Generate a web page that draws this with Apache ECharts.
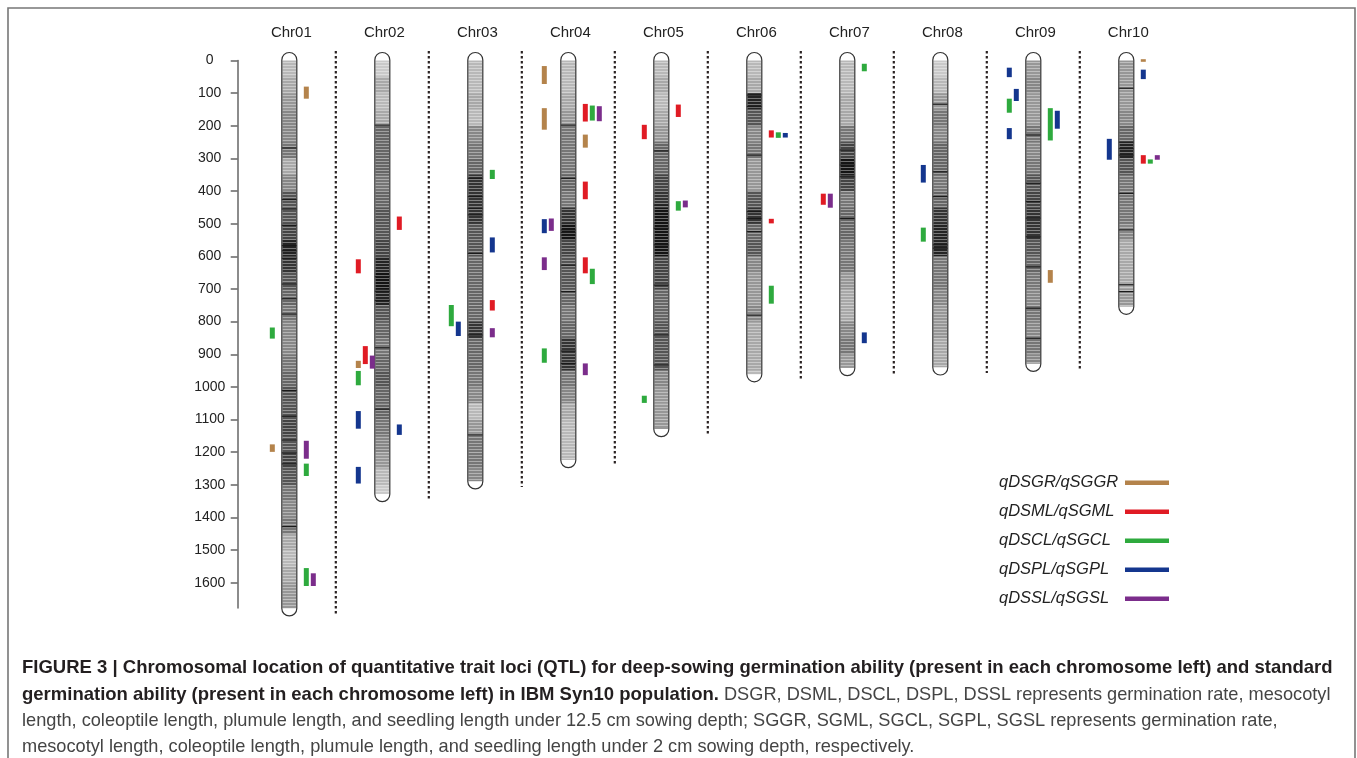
<!DOCTYPE html>
<html>
<head>
<meta charset="utf-8">
<script src="https://cdn.jsdelivr.net/npm/echarts@6/dist/echarts.min.js"></script>
<style>
html,body{margin:0;padding:0;background:#fff;}
#chart{width:1357px;height:758px;}
</style>
</head>
<body>
<div id="chart"></div>
<script>
// ---------------- DATA ----------------
const chromosomes = ['Chr01','Chr02','Chr03','Chr04','Chr05','Chr06','Chr07','Chr08','Chr09','Chr10'];
const chrLengths = [1677, 1327, 1288, 1223, 1128, 960, 941, 939, 928, 753];
const yTicks = [0,100,200,300,400,500,600,700,800,900,1000,1100,1200,1300,1400,1500,1600];
const binSize = 50;

// marker density (0 = sparse/white, 1 = dense/black), one value per 50-unit bin
const chr01Shade = [0.2,0.25,0.3,0.35,0.35,0.4,0.25,0.35,0.5,0.5,0.55,0.65,0.6,0.5,0.45,0.4,0.35,0.35,0.4,0.45,0.5,0.5,0.55,0.5,0.55,0.5,0.4,0.35,0.4,0.25,0.2,0.25,0.3,0.3];
const chr02Shade = [0.15,0.25,0.2,0.25,0.45,0.45,0.45,0.4,0.45,0.5,0.5,0.55,0.65,0.7,0.65,0.5,0.45,0.4,0.45,0.5,0.45,0.45,0.4,0.35,0.3,0.2,0.15];
const chr03Shade = [0.2,0.2,0.25,0.2,0.35,0.4,0.45,0.6,0.6,0.6,0.5,0.5,0.45,0.45,0.45,0.45,0.6,0.45,0.45,0.4,0.35,0.2,0.3,0.4,0.4,0.35];
const chr04Shade = [0.2,0.2,0.25,0.3,0.4,0.4,0.4,0.45,0.4,0.6,0.7,0.55,0.5,0.5,0.45,0.4,0.45,0.6,0.6,0.4,0.35,0.25,0.2,0.2,0.2];
const chr05Shade = [0.2,0.25,0.2,0.25,0.3,0.45,0.45,0.55,0.6,0.75,0.75,0.7,0.55,0.55,0.45,0.45,0.5,0.5,0.5,0.35,0.3,0.3,0.3];
const chr06Shade = [0.2,0.25,0.65,0.5,0.35,0.4,0.3,0.3,0.5,0.6,0.45,0.5,0.35,0.3,0.3,0.35,0.25,0.25,0.25,0.2];
const chr07Shade = [0.2,0.2,0.25,0.25,0.4,0.55,0.7,0.55,0.4,0.45,0.45,0.4,0.4,0.3,0.25,0.25,0.35,0.4,0.3];
const chr08Shade = [0.15,0.2,0.3,0.4,0.35,0.45,0.45,0.4,0.45,0.6,0.65,0.65,0.4,0.4,0.35,0.3,0.3,0.25,0.25];
const chr09Shade = [0.3,0.35,0.3,0.3,0.4,0.35,0.4,0.5,0.55,0.6,0.6,0.5,0.45,0.4,0.35,0.4,0.35,0.4,0.35];
const chr10Shade = [0.3,0.3,0.3,0.35,0.45,0.65,0.5,0.4,0.4,0.4,0.35,0.25,0.25,0.25,0.3,0.3];

// prominent dark marker lines (positions)
const chr01Lines = [268,426,455,505,567,583,606,685,730,777,1011,1090,1163,1202,1236,1428];
const chr02Lines = [198,662,707,735,880,1068];
const chr03Lines = [361,417,453,473,591,841,1147];
const chr04Lines = [198,361,519,527,535,627,708,890,928];
const chr05Lines = [277,443,514,565,688,841,933];
const chr06Lines = [106,141,290,463,484,524,780];
const chr07Lines = [274,320,356,484];
const chr08Lines = [134,341,417,565,575];
const chr09Lines = [228,376,432,483,540,632,759,851];
const chr10Lines = [85,250,270,290,407,519,687,708];

// QTL traits and intervals: [chromosome, lane (- = left, + = right), start, end]
const traits = ['qDSGR/qSGGR','qDSML/qSGML','qDSCL/qSGCL','qDSPL/qSGPL','qDSSL/qSGSL'];
const traitColors = ['#B4834B','#E01B24','#2EAA3E','#14368E','#7B2D8B'];
const qtlGR = [[1,2,80,117],[1,-2,1176,1199],[2,-3,920,942],[4,-3,17,72],[4,-3,146,212],[4,2,227,267],[9,2,642,681],[10,2,-4,4]];
const qtlML = [[2,2,478,519],[2,-3,609,652],[2,-2,875,930],[3,2,734,766],[4,2,133,187],[4,2,371,425],[4,2,603,652],[5,2,135,173],[5,-2,197,241],[6,2,214,236],[6,2,485,499],[7,-3,408,442],[10,2,290,316]];
const qtlCL = [[1,-2,818,852],[1,2,1235,1273],[1,2,1555,1610],[2,-3,951,995],[3,2,335,363],[3,-3,749,814],[4,3,138,184],[4,3,638,685],[4,-3,882,926],[5,2,431,460],[5,-2,1027,1049],[6,3,220,237],[6,2,690,745],[7,2,10,33],[8,-2,512,555],[9,-3,117,160],[9,2,146,245],[10,3,303,316]];
const qtlPL = [[2,-3,1074,1128],[2,2,1115,1147],[2,-3,1245,1296],[3,2,542,588],[3,-2,800,844],[4,-3,486,529],[6,4,222,236],[7,2,833,866],[8,-2,320,374],[9,-3,22,51],[9,-2,87,124],[9,-3,207,241],[9,3,154,209],[10,2,28,57],[10,-2,240,304]];
const qtlSL = [[1,2,1165,1220],[1,3,1571,1610],[2,-1,904,944],[3,2,820,848],[4,4,140,186],[4,-2,484,522],[4,-3,603,642],[4,2,928,964],[5,3,429,450],[7,-2,408,451],[10,4,290,304]];

const captionLines = [
  [['b','FIGURE 3 | Chromosomal location of quantitative trait loci (QTL) for deep-sowing germination ability (present in each chromosome left) and standard']],
  [['b','germination ability (present in each chromosome left) in IBM Syn10 population.'],['n',' DSGR, DSML, DSCL, DSPL, DSSL represents germination rate, mesocotyl']],
  [['n','length, coleoptile length, plumule length, and seedling length under 12.5 cm sowing depth; SGGR, SGML, SGCL, SGPL, SGSL represents germination rate,']],
  [['n','mesocotyl length, coleoptile length, plumule length, and seedling length under 2 cm sowing depth, respectively.']]
];

// ---------------- RENDER ----------------
const FONT = '"Liberation Sans", Arial, Helvetica, sans-serif';
const chrShades = [chr01Shade,chr02Shade,chr03Shade,chr04Shade,chr05Shade,chr06Shade,chr07Shade,chr08Shade,chr09Shade,chr10Shade];
const chrLines = [chr01Lines,chr02Lines,chr03Lines,chr04Lines,chr05Lines,chr06Lines,chr07Lines,chr08Lines,chr09Lines,chr10Lines];
const qtlSets = [qtlGR,qtlML,qtlCL,qtlPL,qtlSL];

function grayOf(s){ const g = Math.max(20, Math.round(250 - s*330)); return 'rgb('+g+','+g+','+g+')'; }

function renderChr(params, api){
  const i = api.value(0), L = api.value(1);
  const p0 = api.coord([i, 0]), pL = api.coord([i, L]);
  const cx = p0[0], y0 = p0[1], yL = pL[1];
  const hw = 7.5, cap = 8;
  const kids = [];
  kids.push({type:'rect', shape:{x:cx-hw, y:y0-cap, width:2*hw, height:yL-y0+2*cap, r:hw}, style:{fill:'#fff'}});
  const shades = chrShades[i-1];
  shades.forEach(function(s,k){
    const a = api.coord([i, k*binSize])[1];
    const b = api.coord([i, Math.min((k+1)*binSize, L)])[1];
    kids.push({type:'rect', shape:{x:cx-hw+0.5, y:a, width:2*hw-1, height:b-a+0.3}, style:{fill:grayOf(s)}});
  });
  for (let y = Math.round(y0)+1; y < yL-1; y += 3){
    kids.push({type:'line', shape:{x1:cx-hw+0.5, y1:y+0.5, x2:cx+hw-0.5, y2:y+0.5}, style:{stroke:'rgba(255,255,255,0.38)', lineWidth:1}});
  }
  chrLines[i-1].forEach(function(v){
    const y = api.coord([i, v])[1];
    kids.push({type:'line', shape:{x1:cx-hw, y1:y, x2:cx+hw, y2:y}, style:{stroke:'#1a1a1a', lineWidth:1.2}});
  });
  kids.push({type:'rect', shape:{x:cx-hw, y:y0-cap, width:2*hw, height:yL-y0+2*cap, r:hw}, style:{fill:'none', stroke:'#333', lineWidth:1.2}});
  kids.push({type:'text', x:cx+2, y:33, style:{text:chromosomes[i-1], font:'15px '+FONT, fill:'#222', align:'center', verticalAlign:'middle'}});
  if (i < chromosomes.length){
    const sx = api.coord([i+0.5, 0])[0];
    kids.push({type:'line', shape:{x1:sx, y1:51, x2:sx, y2:yL+cap-2}, style:{stroke:'#2a2222', lineWidth:2.2, lineDash:[2.5,2.5]}});
  }
  return {type:'group', children:kids};
}

function renderQtl(params, api){
  const c = api.value(0), lane = api.value(1);
  const t = api.coord([c, api.value(2)]), b = api.coord([c, api.value(3)]);
  const off = Math.sign(lane)*(3 + 7*Math.abs(lane));
  return {type:'rect', shape:{x:t[0]+off-2.5, y:t[1], width:5, height:Math.max(b[1]-t[1],2.5)}, style:{fill:api.visual('color')}};
}

const series = [{
  type:'custom', name:'chromosomes', renderItem:renderChr, clip:false, silent:true,
  data: chrLengths.map(function(L,i){ return [i+1, L]; })
}];
traits.forEach(function(name, k){
  series.push({type:'custom', name:name, renderItem:renderQtl, clip:false, silent:true,
    itemStyle:{color:traitColors[k]}, data:qtlSets[k], z:5});
});

const graphic = [{type:'rect', silent:true, z:-10, shape:{x:8, y:8, width:1347, height:770}, style:{fill:'none', stroke:'#777', lineWidth:1.6}}];
// legend (text left, colour sample right)
traits.forEach(function(name, k){
  const y = 482.7 + 29*k;
  graphic.push({type:'text', x:999, y:y, silent:true, style:{text:name, font:'italic 16.5px '+FONT, fill:'#222', align:'left', verticalAlign:'middle'}});
  graphic.push({type:'line', silent:true, shape:{x1:1125, y1:y, x2:1169, y2:y}, style:{stroke:traitColors[k], lineWidth:4.5}});
});
const capY = [668, 695, 721, 747];
captionLines.forEach(function(parts, li){
  graphic.push({type:'text', x:22, y:capY[li], silent:true, style:{
    text: parts.map(function(p){ return '{'+p[0]+'|'+p[1]+'}'; }).join(''),
    verticalAlign:'middle', align:'left',
    rich:{
      b:{fontFamily:FONT, fontSize:18.5, fontWeight:'bold', fill:'#231f20', color:'#231f20'},
      n:{fontFamily:FONT, fontSize:18.2, fill:'#444', color:'#444'}
    }
  }});
});

const option = {
  animation:false,
  backgroundColor:'#fff',
  grid:{left:237.7, right:137.7, top:60.5, bottom:150.1},
  xAxis:{type:'value', min:0.445, max:11, show:false},
  yAxis:{type:'value', inverse:true, min:0, max:1677, interval:100,
    axisLine:{show:true, lineStyle:{color:'#666', width:1.5}},
    axisTick:{show:true, length:7, customValues:yTicks, lineStyle:{color:'#666', width:1.5}},
    axisLabel:{customValues:yTicks, margin:28, align:'center', fontSize:14, color:'#222', fontFamily:FONT,
      formatter:function(v){ return String(v); }},
    splitLine:{show:false}},
  graphic:graphic,
  series:series
};
const chart = echarts.init(document.getElementById('chart'));
chart.setOption(option);
</script>
</body>
</html>
